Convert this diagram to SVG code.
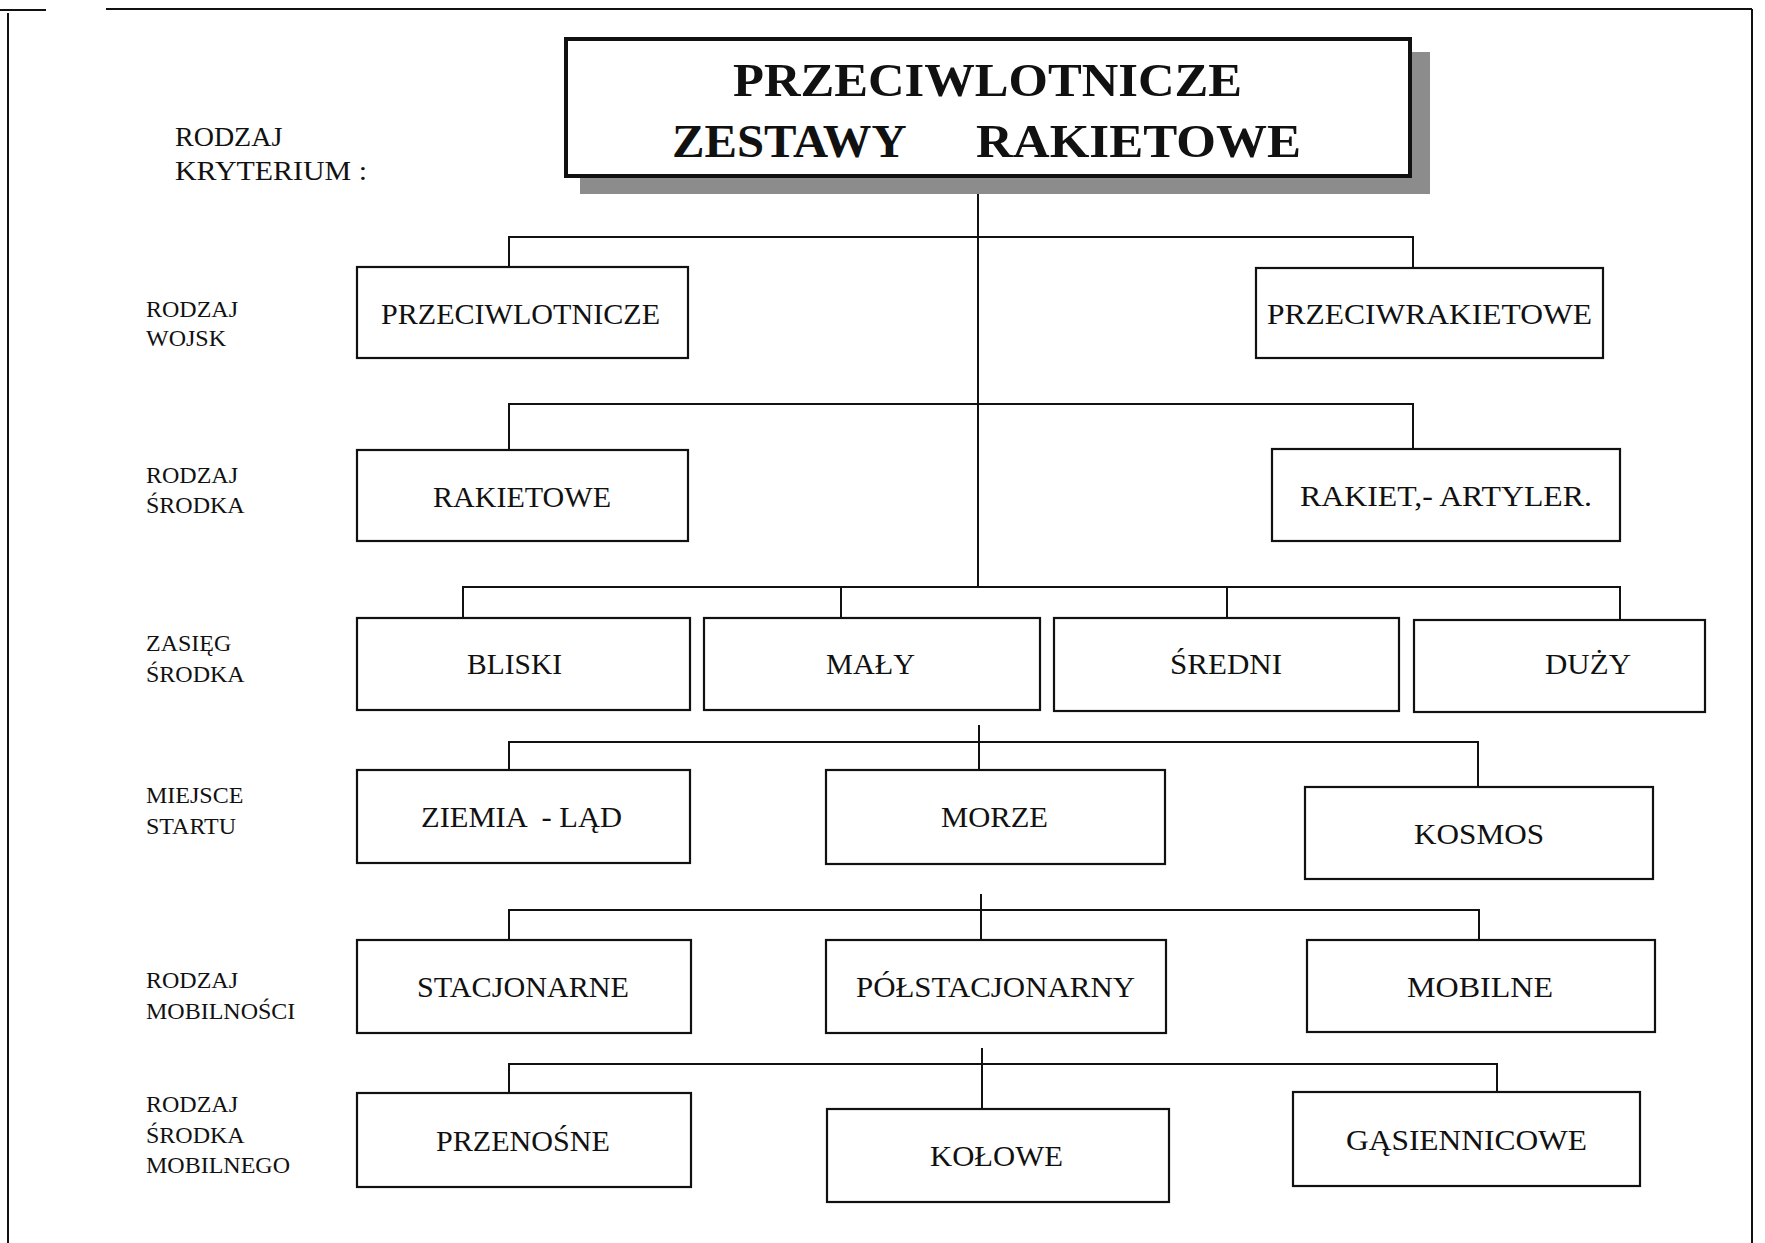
<svg xmlns="http://www.w3.org/2000/svg" width="1765" height="1243" viewBox="0 0 1765 1243">
<style>
.bx{fill:#fff;stroke:#111;stroke-width:2.2}
.ln{fill:none;stroke:#111;stroke-width:2}
.t{font-family:"Liberation Serif","Times New Roman",serif;font-size:29px;fill:#111}
.lb{font-family:"Liberation Serif","Times New Roman",serif;font-size:24px;fill:#111}
.hd{font-family:"Liberation Serif","Times New Roman",serif;font-size:28px;fill:#111}
.ti{font-family:"Liberation Serif","Times New Roman",serif;font-size:47px;font-weight:bold;fill:#111}
</style>
<rect width="1765" height="1243" fill="#fff"/>
<g id="frame">
<line class="ln" x1="0" y1="10" x2="46" y2="10" stroke-width="2.5"/>
<line class="ln" x1="106" y1="9" x2="1752" y2="9"/>
<line class="ln" x1="8" y1="13" x2="8" y2="1243" stroke-width="1.2"/>
<line class="ln" x1="1752" y1="9" x2="1752" y2="1243" stroke-width="1.5"/>
</g>
<g id="criteria-labels">
<text class="hd" x="175" y="146">RODZAJ</text>
<text class="hd" x="175" y="180" textLength="192" lengthAdjust="spacingAndGlyphs">KRYTERIUM :</text>
<text class="lb" x="146" y="317">RODZAJ</text>
<text class="lb" x="146" y="346">WOJSK</text>
<text class="lb" x="146" y="483">RODZAJ</text>
<text class="lb" x="146" y="513">ŚRODKA</text>
<text class="lb" x="146" y="651">ZASIĘG</text>
<text class="lb" x="146" y="682">ŚRODKA</text>
<text class="lb" x="146" y="803">MIEJSCE</text>
<text class="lb" x="146" y="834">STARTU</text>
<text class="lb" x="146" y="988">RODZAJ</text>
<text class="lb" x="146" y="1019">MOBILNOŚCI</text>
<text class="lb" x="146" y="1112">RODZAJ</text>
<text class="lb" x="146" y="1143">ŚRODKA</text>
<text class="lb" x="146" y="1173">MOBILNEGO</text>
</g>
<g id="connectors">
<line class="ln" x1="978" y1="177" x2="978" y2="587"/>
<polyline class="ln" points="509,267 509,237 1413,237 1413,268"/>
<polyline class="ln" points="509,450 509,404 1413,404 1413,449"/>
<polyline class="ln" points="463,618 463,587 1620,587 1620,620"/>
<line class="ln" x1="841" y1="587" x2="841" y2="618"/>
<line class="ln" x1="1227" y1="587" x2="1227" y2="618"/>
<line class="ln" x1="979" y1="725" x2="979" y2="770"/>
<polyline class="ln" points="509,770 509,742 1478,742 1478,787"/>
<line class="ln" x1="981" y1="894" x2="981" y2="940"/>
<polyline class="ln" points="509,940 509,910 1479,910 1479,940"/>
<line class="ln" x1="982" y1="1048" x2="982" y2="1109"/>
<polyline class="ln" points="509,1093 509,1064 1497,1064 1497,1092"/>
</g>
<g id="title">
<rect x="580" y="176" width="850" height="18" fill="#8c8c8c"/>
<rect x="1410" y="52" width="20" height="142" fill="#8c8c8c"/>
<rect x="566" y="39" width="844" height="137" fill="#fff" stroke="#111" stroke-width="4"/>
<text class="ti" x="733" y="96" textLength="509" lengthAdjust="spacingAndGlyphs">PRZECIWLOTNICZE</text>
<text class="ti" y="157"><tspan x="672" textLength="245" lengthAdjust="spacingAndGlyphs">ZESTAWY </tspan><tspan x="976" textLength="325" lengthAdjust="spacingAndGlyphs">RAKIETOWE</tspan></text>
</g>
<g id="n-przeciwlotnicze"><rect class="bx" x="357" y="267" width="331" height="91"/><text class="t" x="381" y="324" textLength="279" lengthAdjust="spacingAndGlyphs">PRZECIWLOTNICZE</text></g>
<g id="n-przeciwrakietowe"><rect class="bx" x="1256" y="268" width="347" height="90"/><text class="t" x="1267" y="324" textLength="325" lengthAdjust="spacingAndGlyphs">PRZECIWRAKIETOWE</text></g>
<g id="n-rakietowe"><rect class="bx" x="357" y="450" width="331" height="91"/><text class="t" x="433" y="507" textLength="178" lengthAdjust="spacingAndGlyphs">RAKIETOWE</text></g>
<g id="n-rakiet-artyler"><rect class="bx" x="1272" y="449" width="348" height="92"/><text class="t" x="1300" y="506" textLength="292" lengthAdjust="spacingAndGlyphs">RAKIET,- ARTYLER.</text></g>
<g id="n-bliski"><rect class="bx" x="357" y="618" width="333" height="92"/><text class="t" x="467" y="674" textLength="95" lengthAdjust="spacingAndGlyphs">BLISKI</text></g>
<g id="n-maly"><rect class="bx" x="704" y="618" width="336" height="92"/><text class="t" x="826" y="674" textLength="89" lengthAdjust="spacingAndGlyphs">MAŁY</text></g>
<g id="n-sredni"><rect class="bx" x="1054" y="618" width="345" height="93"/><text class="t" x="1170" y="674" textLength="112" lengthAdjust="spacingAndGlyphs">ŚREDNI</text></g>
<g id="n-duzy"><rect class="bx" x="1414" y="620" width="291" height="92"/><text class="t" x="1545" y="674" textLength="86" lengthAdjust="spacingAndGlyphs">DUŻY</text></g>
<g id="n-ziemia-lad"><rect class="bx" x="357" y="770" width="333" height="93"/><text class="t" x="421" y="827" textLength="201" lengthAdjust="spacingAndGlyphs" xml:space="preserve">ZIEMIA  - LĄD</text></g>
<g id="n-morze"><rect class="bx" x="826" y="770" width="339" height="94"/><text class="t" x="941" y="827" textLength="107" lengthAdjust="spacingAndGlyphs">MORZE</text></g>
<g id="n-kosmos"><rect class="bx" x="1305" y="787" width="348" height="92"/><text class="t" x="1414" y="844" textLength="130" lengthAdjust="spacingAndGlyphs">KOSMOS</text></g>
<g id="n-stacjonarne"><rect class="bx" x="357" y="940" width="334" height="93"/><text class="t" x="417" y="997" textLength="212" lengthAdjust="spacingAndGlyphs">STACJONARNE</text></g>
<g id="n-polstacjonarny"><rect class="bx" x="826" y="940" width="340" height="93"/><text class="t" x="856" y="997" textLength="279" lengthAdjust="spacingAndGlyphs">PÓŁSTACJONARNY</text></g>
<g id="n-mobilne"><rect class="bx" x="1307" y="940" width="348" height="92"/><text class="t" x="1407" y="997" textLength="146" lengthAdjust="spacingAndGlyphs">MOBILNE</text></g>
<g id="n-przenosne"><rect class="bx" x="357" y="1093" width="334" height="94"/><text class="t" x="436" y="1151" textLength="174" lengthAdjust="spacingAndGlyphs">PRZENOŚNE</text></g>
<g id="n-kolowe"><rect class="bx" x="827" y="1109" width="342" height="93"/><text class="t" x="930" y="1166" textLength="133" lengthAdjust="spacingAndGlyphs">KOŁOWE</text></g>
<g id="n-gasiennicowe"><rect class="bx" x="1293" y="1092" width="347" height="94"/><text class="t" x="1346" y="1150" textLength="241" lengthAdjust="spacingAndGlyphs">GĄSIENNICOWE</text></g>
</svg>
